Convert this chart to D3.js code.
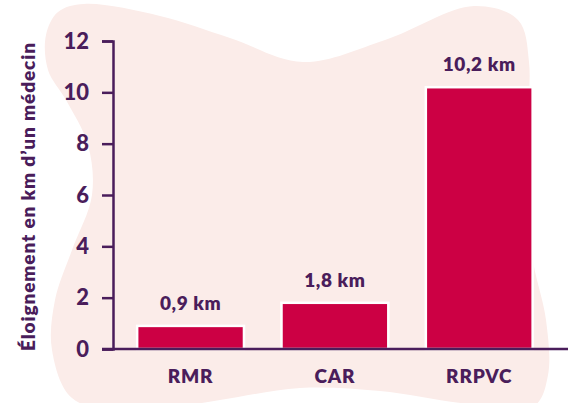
<!DOCTYPE html>
<html>
<head>
<meta charset="utf-8">
<script src="https://cdn.jsdelivr.net/npm/d3@7"></script>
<style>
  html, body { margin: 0; padding: 0; background: #ffffff; }
  svg { display: block; }
  text { font-family: "Lato", "Open Sans", sans-serif; font-weight: 700; fill: #4a1d5b; }
</style>
</head>
<body>
<svg id="chart" width="573" height="403"></svg>
<script>
// Distance to the nearest doctor, by territory
const categories = ["RMR", "CAR", "RRPVC"];
const distances = [0.9, 1.8, 10.2];
const valueLabels = ["0,9 km", "1,8 km", "10,2 km"];
const yTicks = [0, 2, 4, 6, 8, 10, 12];
const yTitle = "Éloignement en km d\u2019un médecin";

const ink = "#4a1d5b";
const barColor = "#cc0044";
const blobColor = "#fbece9";

const svg = d3.select("#chart");

// Decorative soft background shape
const blobPoints = [
  [84, 4], [160, 16], [230, 38], [303, 62], [385, 40], [474, 6],
  [518, 20], [529, 62], [526, 150], [532, 255], [546, 320], [548, 375],
  [534, 406], [470, 404], [380, 391], [300, 388], [220, 400], [130, 412],
  [72, 398], [52, 350], [55, 300], [72, 250], [92, 195], [88, 145],
  [66, 100], [48, 70], [46, 35], [58, 12]
];
svg.append("path")
  .attr("d", d3.line().curve(d3.curveCatmullRomClosed.alpha(0.5))(blobPoints))
  .attr("fill", blobColor);

const x = d3.scaleBand()
  .domain(categories)
  .range([118.4, 551.4])
  .paddingInner(0.26)
  .paddingOuter(0.13);

const y = d3.scaleLinear()
  .domain([0, 12])
  .range([349, 41]);

const axisX = 113;

// Bars
svg.append("g")
  .selectAll("rect")
  .data(categories)
  .join("rect")
  .attr("x", d => x(d))
  .attr("y", (d, i) => y(distances[i]))
  .attr("width", x.bandwidth())
  .attr("height", (d, i) => y(0) - y(distances[i]))
  .attr("fill", barColor)
  .attr("stroke", "#ffffff")
  .attr("stroke-width", 2.5);

// Value labels above bars
svg.append("g")
  .selectAll("text")
  .data(categories)
  .join("text")
  .attr("x", d => x(d) + x.bandwidth() / 2)
  .attr("y", (d, i) => y(distances[i]) - 16)
  .attr("text-anchor", "middle")
  .style("font-size", "19px")
  .style("font-weight", "800")
  .style("letter-spacing", "0.6px")
  .text((d, i) => valueLabels[i]);

// Y axis
const gy = svg.append("g")
  .attr("transform", `translate(${axisX},0)`)
  .call(d3.axisLeft(y).tickValues(yTicks).tickSize(11).tickSizeOuter(11).tickPadding(13)
    .tickFormat(d3.format("d")));
gy.select(".domain").attr("stroke", ink).attr("stroke-width", 2.5);
gy.selectAll(".tick line").attr("stroke", ink).attr("stroke-width", 2.5);
gy.selectAll(".tick text")
  .attr("fill", ink)
  .style("font-family", "Lato, sans-serif")
  .style("font-weight", "900")
  .style("font-size", "22px");

// X axis
const gx = svg.append("g")
  .attr("transform", `translate(0,${y(0)})`)
  .call(d3.axisBottom(x).tickSize(0).tickPadding(21));
gx.select(".domain").remove();
gx.selectAll(".tick text")
  .attr("fill", ink)
  .style("font-family", "Lato, sans-serif")
  .style("font-weight", "800")
  .style("font-size", "19px")
  .style("letter-spacing", "0.8px");
svg.append("line")
  .attr("x1", 102).attr("x2", 568)
  .attr("y1", y(0)).attr("y2", y(0))
  .attr("stroke", ink)
  .attr("stroke-width", 2.5);

// Y axis title
svg.append("text")
  .attr("transform", `translate(35,${(y(0) + y(12)) / 2 + 2}) rotate(-90)`)
  .attr("text-anchor", "middle")
  .style("font-size", "19px")
  .style("font-weight", "800")
  .attr("textLength", 308)
  .attr("lengthAdjust", "spacing")
  .text(yTitle);
</script>
</body>
</html>
